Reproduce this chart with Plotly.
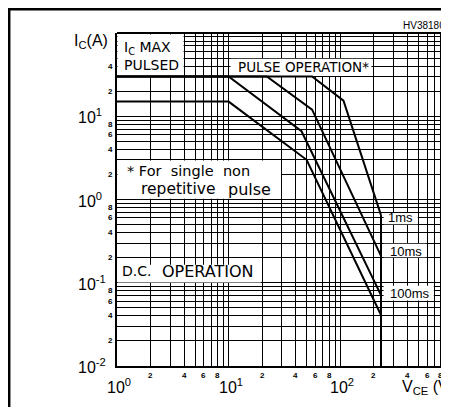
import numpy as np
import plotly.graph_objects as go

# ---------------- data ----------------
vce_dc = [1, 10, 50, 232]
ic_dc = [15, 15, 3.0, 0.041]
vce_100ms = [1, 10, 45, 232]
ic_100ms = [30, 30, 6.6, 0.071]
vce_10ms = [1, 22, 56, 232]
ic_10ms = [30, 30, 12.0, 0.21]
vce_1ms = [1, 56, 107, 232]
ic_1ms = [30, 30, 15.4, 0.65]
vce_limit = [232, 232]
ic_limit = [0.65, 0.01]

x_major = [1, 10, 100]
x_major_text = ["10<sup>0</sup>", "10<sup>1</sup>", "10<sup>2</sup>"]
x_minor = [2, 4, 6, 8, 20, 40, 60, 80, 200, 400, 600, 800]
x_minor_text = ["2", "4", "6", "8"] * 3
y_major = [0.01, 0.1, 1, 10]
y_major_text = ["10<sup>-2</sup>", "10<sup>-1</sup>", "10<sup>0</sup>", "10<sup>1</sup>"]
y_minor = [0.02, 0.04, 0.06, 0.08, 0.2, 0.4, 0.6, 0.8, 2, 4, 6, 8, 20, 40]
y_minor_text = ["2", "4", "6", "8"] * 3 + ["2", "4"]

x_grid = [m * 10 ** k for k in range(0, 4) for m in range(1, 10)]
y_grid = [m * 10 ** k for k in range(-2, 2) for m in range(1, 10)] + [100]

# ---------------- layout geometry ----------------
# the page body adds an 8px offset
OFF = 8
W_FIG, H_FIG = 449 - OFF, 407 - OFF
PL, PT, PB = 117, 33, 366          # plot edges in window pixels
L, T = PL - OFF, PT - OFF
B = H_FIG - (PB - OFF)
PW = W_FIG - L
PH = H_FIG - T - B
XDEC = 111.6
x_range = [0, PW / XDEC]
y_range = [-2, 2]

def px(xw):
    return (xw - PL) / PW

def py(yw):
    return (PB - yw) / PH

FONT = "Liberation Sans, Arial, sans-serif"
FONT2 = "DejaVu Sans, Verdana, sans-serif"
lg = np.log10

fig = go.Figure()
line = dict(color="black", width=2)
for xs, ys, nm in [(vce_dc, ic_dc, "DC"), (vce_100ms, ic_100ms, "100ms"),
                   (vce_10ms, ic_10ms, "10ms"), (vce_1ms, ic_1ms, "1ms"),
                   (vce_limit, ic_limit, "limit")]:
    fig.add_trace(go.Scatter(x=xs, y=ys, mode="lines", line=line, name=nm,
                             showlegend=False, hoverinfo="skip"))

shapes = []
# white label boxes covering the grid (shape coords on log axes are data values)
boxes = [
    (1.01, 3.95, 30.5, 96),
    (10.4, 190, 30.5, 49),
    (1.01, 29.5, 1.02, 2.95),
    (1.01, 19.5, 0.101, 0.165),
    (245, 495, 0.505, 0.69),
    (245, 590, 0.202, 0.295),
    (245, 690, 0.061, 0.092),
]
for x0, x1, y0, y1 in boxes:
    shapes.append(dict(type="rect", xref="x", yref="y", x0=x0, x1=x1,
                       y0=y0, y1=y1, fillcolor="white",
                       line=dict(width=0), layer="between"))
# top border of plot
shapes.append(dict(type="line", xref="paper", yref="paper", x0=0, x1=1, y0=1, y1=1,
                   line=dict(color="black", width=2)))
# outer frame
shapes.append(dict(type="rect", xref="paper", yref="paper", x0=px(9.2), x1=px(480),
                   y0=py(430), y1=py(9.2), line=dict(color="black", width=2.5),
                   fillcolor="rgba(0,0,0,0)"))

ann = []
def A(text, x, y, size=14, xref="paper", yref="paper", xanchor="center",
      family=FONT, **kw):
    ann.append(dict(text=text, x=x, y=y, xref=xref, yref=yref, showarrow=False,
                    xanchor=xanchor, yanchor="middle",
                    font=dict(family=family, size=size, color="black"), **kw))

for v, t in zip(y_major, y_major_text):
    A(t, px(76), lg(v), size=16, yref="y", xanchor="left")
for v, t in zip(y_minor, y_minor_text):
    A("<b>" + t + "</b>", px(110), lg(v), size=8, yref="y")
for v, t in zip(x_major, x_major_text):
    A(t, lg(v), py(386), size=16, xref="x", xshift=2)
for v, t in zip(x_minor, x_minor_text):
    A("<b>" + t + "</b>", lg(v), py(375), size=8, xref="x")

A("I<sub>C</sub>(A)", px(72), py(42), size=16, xanchor="left")
A("V<sub>CE</sub> (V)", px(400), py(387), size=16, xanchor="left")
A("HV38180", px(401), py(25), size=10, xanchor="left")
A("I<sub>C</sub> MAX", px(122), py(48), size=14, xanchor="left", family=FONT2)
A("PULSED", px(122), py(65), size=14, xanchor="left", family=FONT2)
A("PULSE OPERATION*", px(236), py(67), size=13.5, xanchor="left", family=FONT2)
A("* For  single  non", px(125), py(171), size=14.5, xanchor="left", family=FONT2)
A("repetitive", px(139), py(189), size=15.5, xanchor="left", family=FONT2)
A("pulse", px(226), py(189), size=16, xanchor="left", family=FONT2)
A("D.C.", px(120), py(271), size=14, xanchor="left", family=FONT2)
A("OPERATION", px(160), py(271), size=16, xanchor="left", family=FONT2)
A("1ms", px(386), py(217), size=13, xanchor="left")
A("10ms", px(388), py(251), size=13, xanchor="left")
A("100ms", px(388), py(293), size=13, xanchor="left")

axis_common = dict(type="log", showticklabels=False, ticks="", showgrid=True,
                   gridcolor="black", gridwidth=1, zeroline=False,
                   showline=True, linecolor="black", linewidth=2, mirror=False,
                   tickmode="array")
fig.update_layout(
    width=W_FIG, height=H_FIG,
    margin=dict(l=L, r=0, t=T, b=B),
    paper_bgcolor="white", plot_bgcolor="white",
    xaxis=dict(range=x_range, tickvals=x_grid, **axis_common),
    yaxis=dict(range=y_range, tickvals=y_grid, **axis_common),
    shapes=shapes, annotations=ann, showlegend=False,
)
fig.write_html("out.html")
